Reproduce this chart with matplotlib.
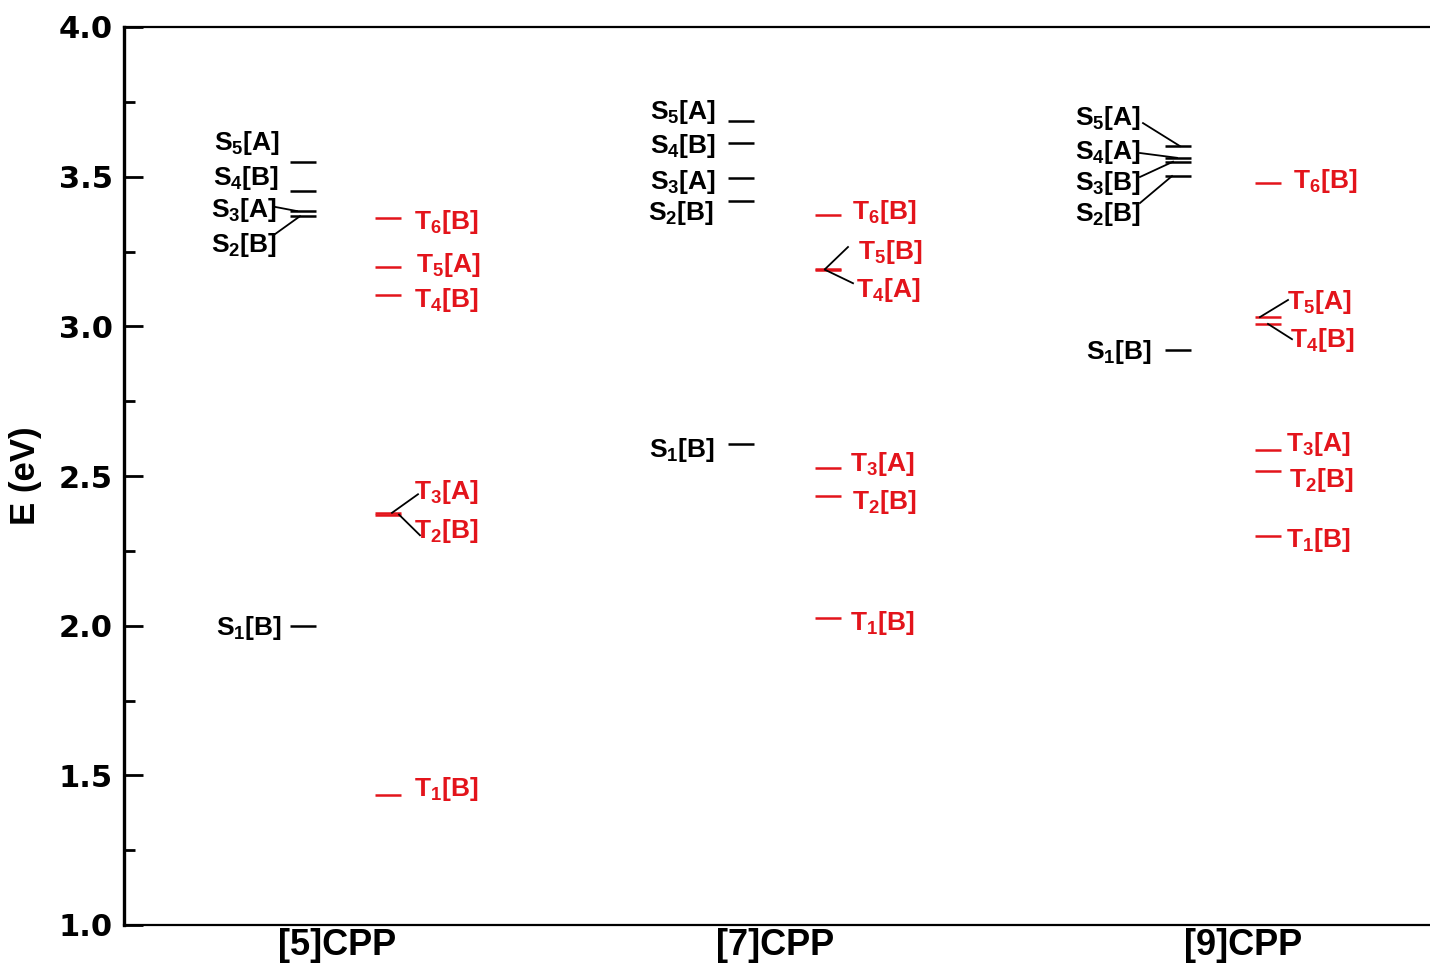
import matplotlib
matplotlib.use('Agg')
import matplotlib.pyplot as plt
from matplotlib.ticker import MultipleLocator

plt.rcParams['font.family'] = ['Liberation Sans', 'DejaVu Sans']
plt.rcParams['font.weight'] = 'bold'
plt.rcParams['mathtext.fontset'] = 'custom'
plt.rcParams['mathtext.rm'] = 'Liberation Sans:bold'
plt.rcParams['mathtext.it'] = 'Liberation Sans:bold'
plt.rcParams['mathtext.bf'] = 'Liberation Sans:bold'

RED = '#e3141b'

'''DATA'''
molecules = ['[5]CPP', '[7]CPP', '[9]CPP']

# singlet levels (eV)
s_names = [
    ['S$_5$[A]', 'S$_4$[B]', 'S$_3$[A]', 'S$_2$[B]', 'S$_1$[B]'],
    ['S$_5$[A]', 'S$_4$[B]', 'S$_3$[A]', 'S$_2$[B]', 'S$_1$[B]'],
    ['S$_5$[A]', 'S$_4$[A]', 'S$_3$[B]', 'S$_2$[B]', 'S$_1$[B]'],
]
s_E = [
    [3.549, 3.452, 3.385, 3.368, 1.999],
    [3.686, 3.612, 3.496, 3.419, 2.607],
    [3.602, 3.563, 3.550, 3.502, 2.921],
]

# triplet levels (eV)
t_names = [
    ['T$_6$[B]', 'T$_5$[A]', 'T$_4$[B]', 'T$_3$[A]', 'T$_2$[B]', 'T$_1$[B]'],
    ['T$_6$[B]', 'T$_5$[B]', 'T$_4$[A]', 'T$_3$[A]', 'T$_2$[B]', 'T$_1$[B]'],
    ['T$_6$[B]', 'T$_5$[A]', 'T$_4$[B]', 'T$_3$[A]', 'T$_2$[B]', 'T$_1$[B]'],
]
t_E = [
    [3.362, 3.198, 3.105, 2.377, 2.371, 1.434],
    [3.372, 3.191, 3.189, 2.527, 2.433, 2.025],
    [3.479, 3.031, 3.008, 2.587, 2.517, 2.299],
]

'''LAYOUT (x in pixel-like units, label y in eV)'''
mol_x = [337, 775, 1243]
s_x0 = [290, 728, 1165]
t_x0 = [375, 815, 1255]
line_len = 26

s_lab_x = [[280, 279, 277, 277, 282],
           [716, 716, 716, 714, 715],
           [1141, 1141, 1141, 1141, 1152]]
s_lab_E = [[3.612, 3.495, 3.389, 3.272, 1.992],
           [3.716, 3.602, 3.482, 3.379, 2.587],
           [3.696, 3.582, 3.479, 3.375, 2.914]]
t_lab_x = [[414, 416, 414, 414, 414, 414],
           [852, 858, 856, 850, 852, 850],
           [1293, 1287, 1290, 1286, 1289, 1286]]
t_lab_E = [[3.348, 3.205, 3.088, 2.446, 2.316, 1.454],
           [3.382, 3.248, 3.121, 2.540, 2.413, 2.009],
           [3.485, 3.081, 2.954, 2.607, 2.486, 2.286]]

# leader lines: (label-side x, label-side E, line-side x, kind, group, level index)
leaders = [
    (275, 3.399, 297, 's', 0, 2),
    (275, 3.308, 300, 's', 0, 3),
    (418, 2.439, 392, 't', 0, 3),
    (420, 2.302, 399, 't', 0, 4),
    (848, 3.265, 825, 't', 1, 1),
    (853, 3.144, 825, 't', 1, 2),
    (1143, 3.679, 1180, 's', 2, 0),
    (1140, 3.579, 1177, 's', 2, 1),
    (1140, 3.499, 1173, 's', 2, 2),
    (1140, 3.412, 1172, 's', 2, 3),
    (1288, 3.088, 1260, 't', 2, 1),
    (1292, 2.957, 1268, 't', 2, 2),
]

fig = plt.figure(figsize=(14.3, 9.64), dpi=100)
ax = fig.add_axes([124 / 1430, 39 / 964, 1.0, 898 / 964])
ax.set_xlim(124, 1554)
ax.set_ylim(1.0, 4.0)

for g in range(3):
    for n, E, lx, lE in zip(s_names[g], s_E[g], s_lab_x[g], s_lab_E[g]):
        ax.plot([s_x0[g], s_x0[g] + line_len], [E, E], color='black', lw=1.8,
                solid_capstyle='butt')
        ax.text(lx, lE, n, color='black', fontsize=19, ha='right', va='center')
    for n, E, lx, lE in zip(t_names[g], t_E[g], t_lab_x[g], t_lab_E[g]):
        ax.plot([t_x0[g], t_x0[g] + line_len], [E, E], color=RED, lw=1.8,
                solid_capstyle='butt')
        ax.text(lx, lE, n, color=RED, fontsize=19, ha='left', va='center')

for lx, lE, x1, kind, g, i in leaders:
    E = s_E[g][i] if kind == 's' else t_E[g][i]
    ax.plot([lx, x1], [lE, E], color='black', lw=1.3)

ax.spines['right'].set_visible(False)
ax.spines['left'].set_linewidth(2.4)
ax.spines['top'].set_linewidth(1.6)
ax.spines['bottom'].set_linewidth(1.6)

ax.yaxis.set_major_locator(MultipleLocator(0.5))
ax.yaxis.set_minor_locator(MultipleLocator(0.25))
ax.tick_params(axis='y', which='major', direction='in', length=14, width=2,
               pad=8)
ax.tick_params(axis='y', which='minor', direction='in', length=8, width=2)
ax.tick_params(axis='y', which='both', right=False)
ax.set_yticks([1.0, 1.5, 2.0, 2.5, 3.0, 3.5, 4.0])
ax.set_yticklabels(['1.0', '1.5', '2.0', '2.5', '3.0', '3.5', '4.0'],
                   fontsize=22, fontweight='bold', family='DejaVu Sans')

ax.set_xticks(mol_x)
ax.set_xticklabels(molecules, fontsize=26, fontweight='bold')
ax.tick_params(axis='x', length=0, pad=2)

ax.set_ylabel('E (eV)', fontsize=25, fontweight='bold', labelpad=12)

plt.savefig('out.png', dpi=100)
